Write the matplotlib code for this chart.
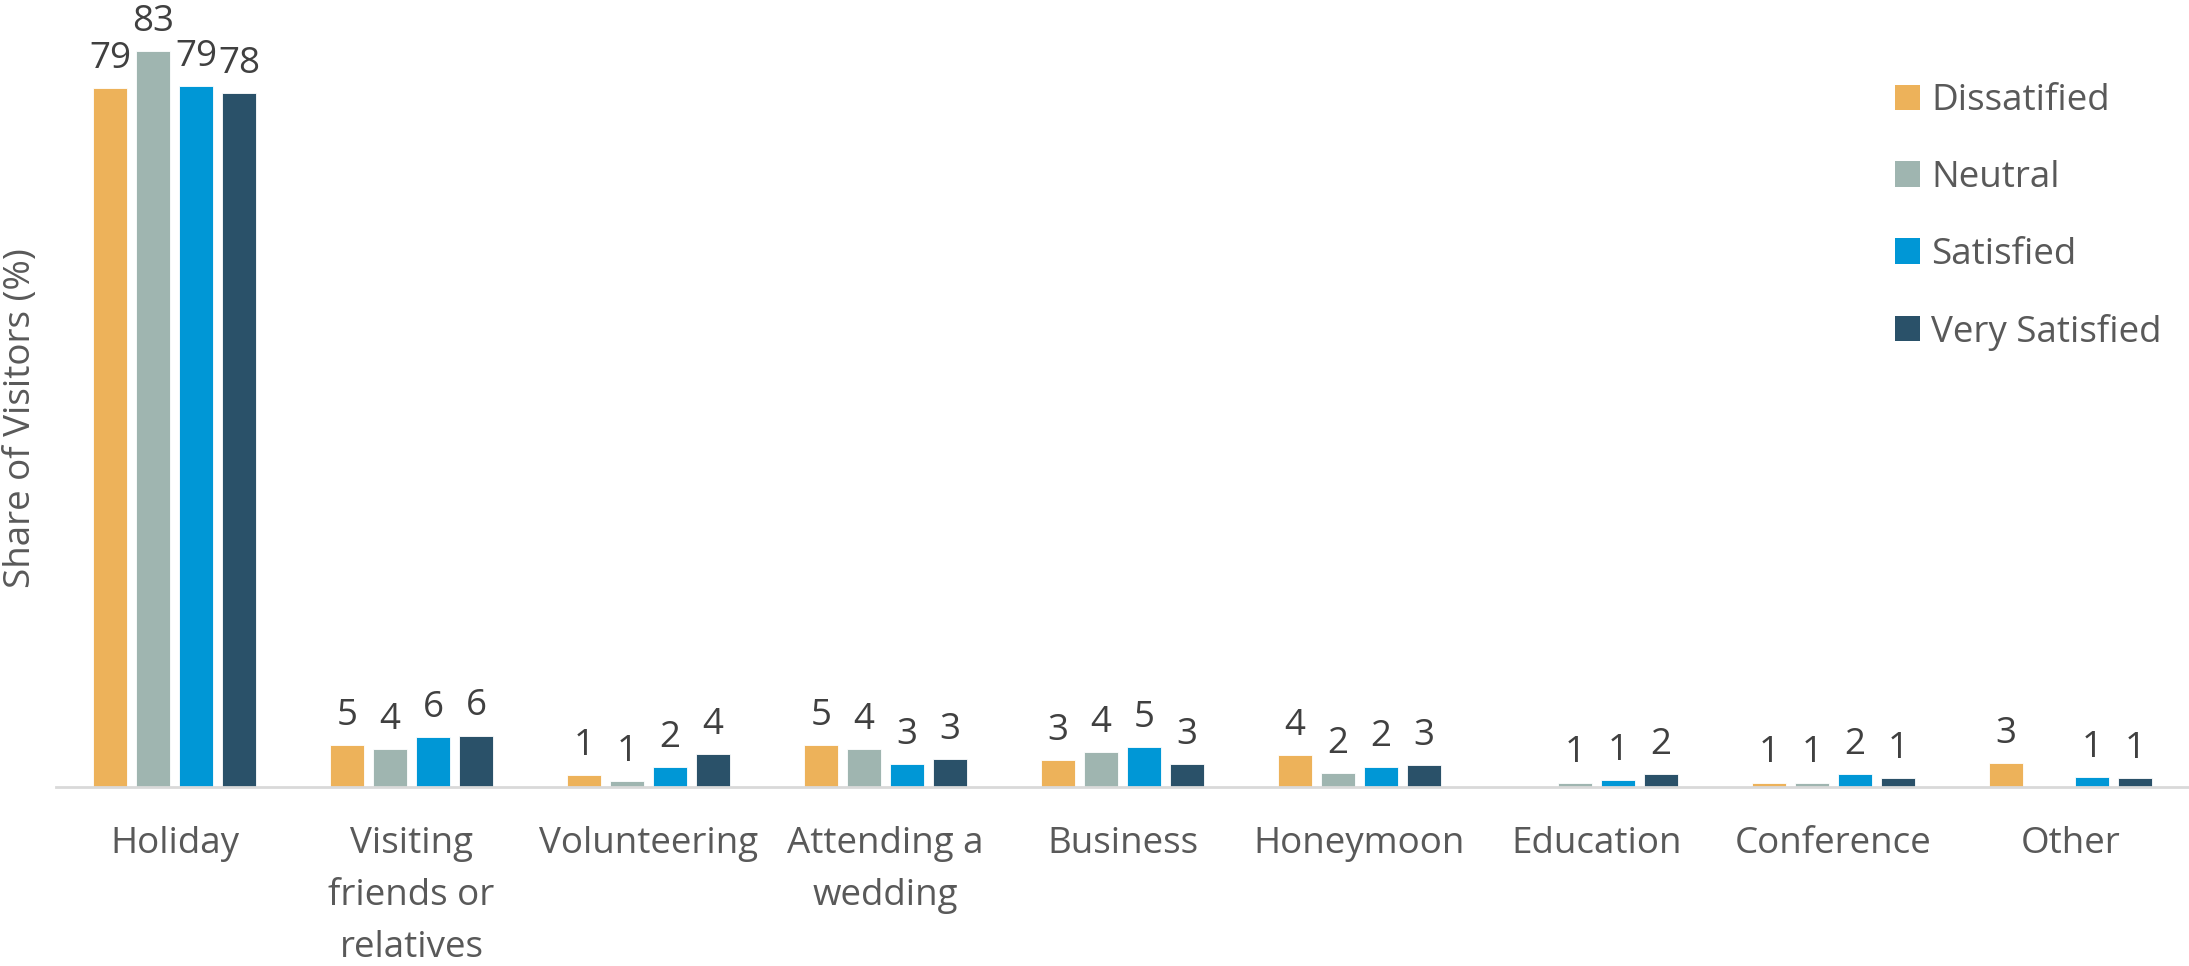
import matplotlib
matplotlib.use("Agg")
import matplotlib.pyplot as plt
from matplotlib.patches import Patch

plt.rcParams['font.family'] = ['Open Sans', 'DejaVu Sans']

# data (share of visitors, %)
categories = ["Holiday", "Visiting\nfriends or\nrelatives", "Volunteering", "Attending a\nwedding",
              "Business", "Honeymoon", "Education", "Conference", "Other"]
series = ["Dissatified", "Neutral", "Satisfied", "Very Satisfied"]
dissatisfied = [78.8, 4.7, 1.3, 4.7, 3.0, 3.6, 0.0, 0.5, 2.7]
neutral = [83.0, 4.3, 0.7, 4.3, 3.9, 1.6, 0.5, 0.5, 0.0]
satisfied = [79.0, 5.6, 2.2, 2.6, 4.5, 2.3, 0.8, 1.5, 1.1]
very_satisfied = [78.2, 5.8, 3.7, 3.2, 2.6, 2.5, 1.5, 1.0, 1.0]
colors = ["#EDB25A", "#9FB5B0", "#0097D6", "#2A5169"]

W, H = 2189, 966
fs = 26.5
fig = plt.figure(figsize=(W / 100, H / 100), dpi=100)
base_y = 787
ax = fig.add_axes([56 / W, (H - base_y) / H, (W - 56) / W, base_y / H])

pitch = 0.1814
width = 0.146
all_vals = [dissatisfied, neutral, satisfied, very_satisfied]
for i, vals in enumerate(all_vals):
    xs = [c + (i - 1.5) * pitch for c in range(len(categories))]
    bars = ax.bar(xs, vals, width=width, color=colors[i], edgecolor="white", linewidth=0.6, zorder=2)
    for b, v in zip(bars, vals):
        if v <= 0:
            continue
        ax.annotate(str(int(v + 0.5)), (b.get_x() + b.get_width() / 2, v),
                    xytext=(0, 8), textcoords="offset points",
                    ha="center", va="bottom", fontsize=fs, color="#404040")

ax.set_xlim(-0.5, len(categories) - 0.5)
ax.set_ylim(0, base_y / 8.87)
ax.set_xticks(range(len(categories)))
ax.set_xticklabels(categories, fontsize=fs, color="#595959", linespacing=1.6, va="top")
ax.tick_params(axis="x", length=0, pad=28)
ax.set_yticks([])
for s in ["top", "right", "left"]:
    ax.spines[s].set_visible(False)
ax.spines["bottom"].set_color("#D9D9D9")
ax.spines["bottom"].set_linewidth(2)

fig.text(21 / W, 1 - 418 / H, "Share of Visitors (%)", rotation=90, ha="center", va="center",
         fontsize=fs, color="#595959")

handles = [Patch(facecolor=c, edgecolor="none") for c in colors]
leg = fig.legend(handles, series, loc="upper left", bbox_to_anchor=(1862 / W, 1 - 50 / H),
                 frameon=False, fontsize=fs, labelcolor="#595959",
                 handlelength=0.68, handleheight=0.68, handletextpad=0.3, labelspacing=1.11)

fig.savefig("out.png", dpi=100)
